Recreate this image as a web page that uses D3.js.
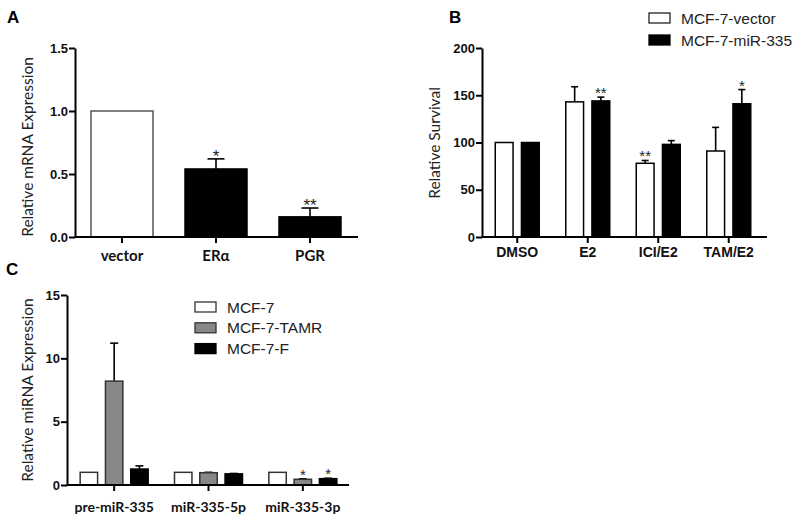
<!DOCTYPE html>
<html>
<head>
<meta charset="utf-8">
<script src="https://cdn.jsdelivr.net/npm/d3@7"></script>
<style>
  body { margin: 0; background: #fff; }
  svg { display: block; }
</style>
</head>
<body>
<svg id="chart" width="800" height="521"></svg>
<script>
// Panel A: relative mRNA expression
const catsA = ["vector", "ERα", "PGR"];
const valsA = [1.0, 0.54, 0.16];
const errA = [0, 0.08, 0.07];
const starsA = ["", "*", "**"];
const ticksA = [0, 0.5, 1.0, 1.5];

// Panel B: relative survival
const catsB = ["DMSO", "E2", "ICI/E2", "TAM/E2"];
const seriesB = ["MCF-7-vector", "MCF-7-miR-335"];
const vectorB = [100, 143, 78, 91];
const vectorErrB = [0, 16, 3, 25];
const vectorStarsB = ["", "", "**", ""];
const mirB = [100, 144, 98, 141];
const mirErrB = [0, 4, 4, 15];
const mirStarsB = ["", "**", "", "*"];
const ticksB = [0, 50, 100, 150, 200];

// Panel C: relative miRNA expression
const catsC = ["pre-miR-335", "miR-335-5p", "miR-335-3p"];
const seriesC = ["MCF-7", "MCF-7-TAMR", "MCF-7-F"];
const mcf7C = [1, 1, 1];
const mcf7ErrC = [0, 0, 0];
const tamrC = [8.2, 0.97, 0.45];
const tamrErrC = [3.0, 0.03, 0.04];
const tamrStarsC = ["", "", "*"];
const fC = [1.26, 0.88, 0.5];
const fErrC = [0.25, 0.03, 0.03];
const fStarsC = ["", "", "*"];
const ticksC = [0, 5, 10, 15];

const svg = d3.select("#chart");
const arial = "'Liberation Sans', Arial, sans-serif";
const calibri = "Lato, 'Open Sans', sans-serif";

// fill/stroke may be one colour or one per category
const pick = (v, i) => Array.isArray(v) ? v[i] : v;

function drawPanel(cfg) {
  const g = svg.append("g");

  const y = d3.scaleLinear().domain(cfg.yDomain).range([cfg.bottom, cfg.top]);
  const x = d3.scaleBand().domain(cfg.cats).range(cfg.xRange).padding(0);
  const sub = d3.scaleBand()
      .domain(d3.range(cfg.series.length))
      .range(cfg.subRange)
      .paddingInner(cfg.subPad);

  // flatten into one row per bar
  const rows = [];
  cfg.cats.forEach((c, i) => {
    cfg.series.forEach((s, si) => {
      rows.push({ c: c, si: si, v: s.values[i], e: s.errs[i], star: s.stars[i],
                  fill: pick(s.fill, i), stroke: pick(s.stroke, i) });
    });
  });

  const barX = d => x(d.c) + x.bandwidth() / 2 + sub(d.si);
  const barMid = d => barX(d) + sub.bandwidth() / 2;

  // error bars (upper only)
  const err = g.selectAll(".err").data(rows.filter(d => d.e > 0)).enter().append("g");
  err.append("line")
      .attr("x1", barMid).attr("x2", barMid)
      .attr("y1", d => y(d.v)).attr("y2", d => y(d.v + d.e))
      .attr("stroke", "#000").attr("stroke-width", 1.6);
  err.append("line")
      .attr("x1", d => barMid(d) - cfg.capW / 2).attr("x2", d => barMid(d) + cfg.capW / 2)
      .attr("y1", d => y(d.v + d.e)).attr("y2", d => y(d.v + d.e))
      .attr("stroke", "#000").attr("stroke-width", 1.6);

  // bars
  g.selectAll(".bar").data(rows).enter().append("rect")
      .attr("x", barX)
      .attr("y", d => y(d.v))
      .attr("width", sub.bandwidth())
      .attr("height", d => y(0) - y(d.v))
      .attr("fill", d => d.fill)
      .attr("stroke", d => d.stroke)
      .attr("stroke-width", 1.5);

  // significance stars
  g.selectAll(".star").data(rows.filter(d => d.star)).enter().append("text")
      .attr("x", barMid)
      .attr("y", d => y(d.v + d.e) + cfg.starDy)
      .attr("text-anchor", "middle")
      .style("font-family", arial)
      .style("font-size", cfg.starSize + "px")
      .style("fill", "#222")
      .text(d => d.star);

  // y axis
  const yAxis = g.append("g")
      .attr("transform", "translate(" + cfg.xRange[0] + ",0)")
      .call(d3.axisLeft(y).tickValues(cfg.ticks).tickFormat(cfg.fmt).tickSize(6).tickSizeOuter(0).tickPadding(1));
  yAxis.select(".domain").attr("stroke-width", 2);
  yAxis.selectAll(".tick line").attr("stroke-width", 2);
  yAxis.selectAll("text")
      .style("font-family", arial).style("font-weight", "bold").style("font-size", "13px").attr("fill", "#111");

  // x axis
  const xAxis = g.append("g")
      .attr("transform", "translate(0," + cfg.bottom + ")")
      .call(d3.axisBottom(x).tickSize(6).tickSizeOuter(0));
  xAxis.select(".domain")
      .attr("d", "M" + cfg.xRange[0] + ",0H" + cfg.xEnd)
      .attr("stroke-width", 2);
  xAxis.selectAll(".tick line").attr("stroke-width", 2);
  xAxis.selectAll("text")
      .attr("y", cfg.labelY).attr("dy", 0)
      .style("font-family", cfg.labelFont).style("font-weight", "bold")
      .style("font-size", cfg.labelSize + "px").attr("fill", "#111");

  // y title
  g.append("text")
      .attr("transform", "translate(" + cfg.titleX + "," + cfg.titleY + ") rotate(-90)")
      .attr("text-anchor", "middle")
      .style("font-family", calibri)
      .style("font-size", "15.5px")
      .attr("fill", "#222")
      .text(cfg.title);

  // panel letter
  svg.append("text")
      .attr("x", cfg.letter[1]).attr("y", cfg.letter[2])
      .style("font-family", arial).style("font-weight", "bold").style("font-size", "17px")
      .text(cfg.letter[0]);
}

drawPanel({
  cats: catsA,
  series: [{ values: valsA, errs: errA, stars: starsA,
             fill: ["#fff", "#000", "#000"], stroke: ["#555", "#000", "#000"] }],
  yDomain: [0, 1.5], top: 48, bottom: 237,
  xRange: [75, 357], xEnd: 358,
  subRange: [-31, 31], subPad: 0,
  ticks: ticksA, fmt: d3.format(".1f"),
  capW: 17, starDy: 3, starSize: 17,
  labelY: 24, labelFont: calibri, labelSize: 15,
  title: "Relative mRNA Expression", titleX: 33, titleY: 147,
  letter: ["A", 7, 23]
});

drawPanel({
  cats: catsB,
  series: [
    { values: vectorB, errs: vectorErrB, stars: vectorStarsB, fill: "#fff", stroke: "#000" },
    { values: mirB, errs: mirErrB, stars: mirStarsB, fill: "#000", stroke: "#000" }
  ],
  yDomain: [0, 200], top: 48, bottom: 237,
  xRange: [482, 764], xEnd: 767,
  subRange: [-22, 22], subPad: 0.32,
  ticks: ticksB, fmt: d3.format("d"),
  capW: 7, starDy: 1, starSize: 15,
  labelY: 20, labelFont: arial, labelSize: 14,
  title: "Relative Survival", titleX: 440, titleY: 143,
  letter: ["B", 449, 23]
});

drawPanel({
  cats: catsC,
  series: [
    { values: mcf7C, errs: mcf7ErrC, stars: ["", "", ""], fill: "#fff", stroke: "#333" },
    { values: tamrC, errs: tamrErrC, stars: tamrStarsC, fill: "#888", stroke: "#333" },
    { values: fC, errs: fErrC, stars: fStarsC, fill: "#000", stroke: "#000" }
  ],
  yDomain: [0, 15], top: 295, bottom: 485,
  xRange: [67, 350], xEnd: 349,
  subRange: [-34, 34], subPad: 0.31,
  ticks: ticksC, fmt: d3.format("d"),
  capW: 8, starDy: 1, starSize: 15,
  labelY: 27, labelFont: calibri, labelSize: 14,
  title: "Relative miRNA Expression", titleX: 33, titleY: 390,
  letter: ["C", 6, 275]
});

// Legends
function legend(names, fills, strokes, x0, y0, step) {
  const lg = svg.append("g");
  names.forEach((n, i) => {
    lg.append("rect")
        .attr("x", x0).attr("y", y0 + i * step)
        .attr("width", 21).attr("height", 10)
        .attr("fill", fills[i]).attr("stroke", strokes[i]).attr("stroke-width", 1.3);
    lg.append("text")
        .attr("x", x0 + 32).attr("y", y0 + i * step + 10.5)
        .style("font-family", arial).style("font-size", "15.5px").attr("fill", "#222")
        .text(n);
  });
}
legend(seriesB, ["#fff", "#000"], ["#222", "#000"], 649, 13, 22);
legend(seriesC, ["#fff", "#888", "#000"], ["#333", "#333", "#000"], 195, 302, 20.8);
</script>
</body>
</html>
